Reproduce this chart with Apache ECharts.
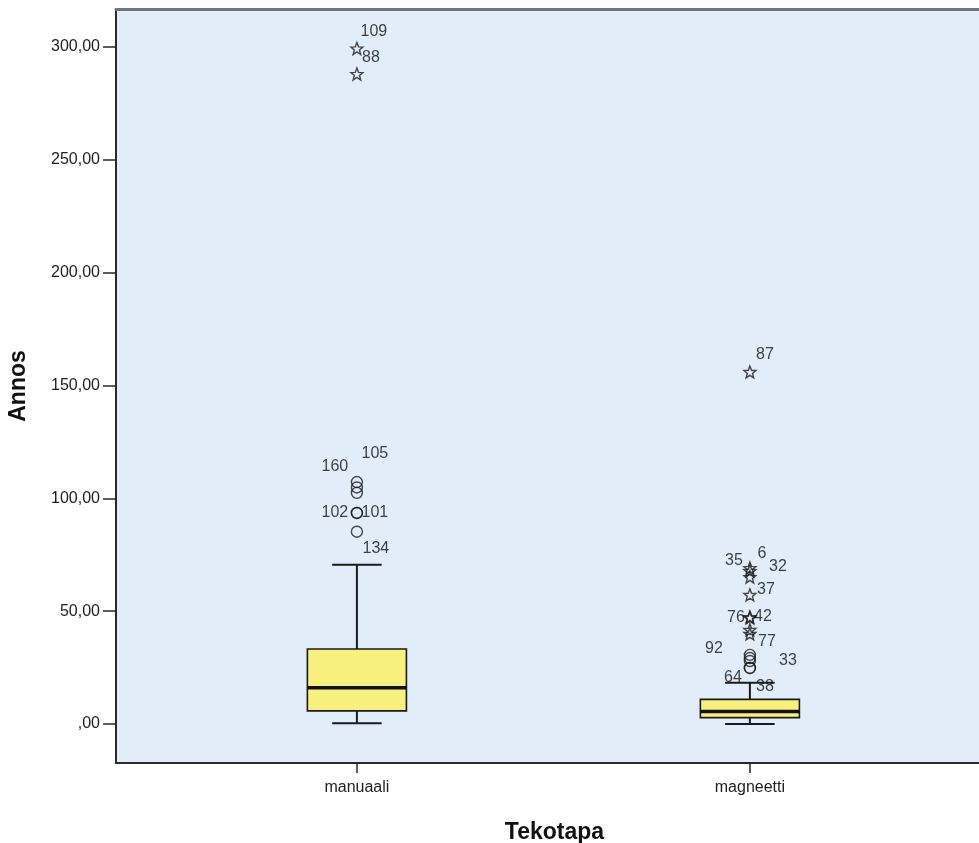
<!DOCTYPE html>
<html>
<head>
<meta charset="utf-8">
<script src="https://cdn.jsdelivr.net/npm/echarts@6/dist/echarts.min.js"></script>
<style>html,body{margin:0;padding:0;background:#fff;overflow:hidden}#c{width:979px;height:843px}</style>
</head>
<body>
<div id="c"></div>
<script>
// ---- data ----
const categories = ['manuaali', 'magneetti'];
// [min whisker, Q1, median, Q3, max whisker]
const boxManuaali = [0.3, 5.8, 16.0, 33.2, 70.5];
const boxMagneetti = [0.0, 2.8, 5.5, 10.9, 18.3];
const manuaaliOutliers = [107.2, 104.8, 102.4, 93.5, 93.5, 85.2];
const manuaaliOutlierIds = ['105', '160', '', '102', '101', '134'];
const manuaaliExtremes = [299.3, 288.0];
const manuaaliExtremeIds = ['109', '88'];
const magneettiOutliers = [30.6, 29.2, 27.9, 24.8, 24.8];
const magneettiOutlierIds = ['92', '', '33', '64', '38'];
const magneettiExtremes = [156.0, 69.1, 67.8, 65.1, 57.2, 47.4, 47.0, 41.7, 39.9];
const magneettiExtremeIds = ['87', '35', '6', '32', '37', '76', '42', '', '77'];
const yTicks = [0, 50, 100, 150, 200, 250, 300];
const xTitle = 'Tekotapa';
const yTitle = 'Annos';

// ---- style (label placement offsets, px) ----
const labelOffsets = {
  '109': [17, -17], '88': [14, -16], '105': [18, -28], '160': [-22, -21],
  '102': [-22, 0], '101': [18, 0], '134': [19, 17],
  '87': [15, -17], '35': [-16, -7], '6': [12, -17], '32': [28, -10],
  '37': [16, -5], '76': [-14, 1], '42': [13, -1], '77': [17, 8],
  '92': [-36, -6], '33': [38, 0], '64': [-17, 10], '38': [15, 19]
};
const FONT = "'Liberation Sans', Arial, sans-serif";
const INK = '#1a1a1a';
const BOX_FRAC = 0.252;
const STAR = 'path://M0,-10 L2.6,-3.4 L9.5,-3.1 L4.1,1.3 L6,8.1 L0,4.2 L-6,8.1 L-4.1,1.3 L-9.5,-3.1 L-2.6,-3.4 Z';

function pts(catIdx, vals, ids) {
  return vals.map((v, k) => {
    const id = ids[k];
    return {
      value: [catIdx, v],
      name: id,
      label: { show: id !== '', offset: labelOffsets[id] || [0, 0] }
    };
  });
}

const boxData = [[0].concat(boxManuaali), [1].concat(boxMagneetti)];

const el = document.getElementById('c');
const chart = echarts.init(el, null, { renderer: 'canvas', width: 979, height: 843 });
const markerLabel = {
  position: 'inside', formatter: p => p.name, color: '#111',
  fontFamily: FONT, fontSize: 16
};

chart.setOption({
  backgroundColor: '#ffffff',
  animation: false,
  grid: {
    left: 116, right: 0, top: 9, bottom: 80,
    outerBoundsMode: 'none', containLabel: false,
    show: true, backgroundColor: '#e2edfa', borderWidth: 0
  },
  xAxis: [{
    type: 'value', min: -0.613, max: 1.583,
    name: xTitle, nameLocation: 'middle', nameGap: 58,
    nameTextStyle: { fontFamily: FONT, fontSize: 23, fontWeight: 'bold', color: '#111', padding: [0, 0, 0, 14] },
    axisLine: { show: true, onZero: false, lineStyle: { color: '#2a2a2a', width: 2 } },
    axisTick: { show: true, customValues: [0, 1], length: 10, lineStyle: { color: '#2a2a2a', width: 1.5 } },
    axisLabel: {
      customValues: [0, 1], formatter: v => categories[Math.round(v)] || '',
      margin: 17, fontFamily: FONT, fontSize: 16, color: '#1e1e1e'
    },
    splitLine: { show: false }
  }, {
    type: 'value', position: 'top', min: -0.613, max: 1.583,
    axisLine: { show: true, onZero: false, lineStyle: { color: '#70777c', width: 3 } },
    axisTick: { show: false }, axisLabel: { show: false }, splitLine: { show: false }
  }],
  yAxis: {
    type: 'value', min: -17.3, max: 316.8,
    name: yTitle, nameLocation: 'middle', nameGap: 86, nameRotate: 90,
    nameTextStyle: { fontFamily: FONT, fontSize: 23, fontWeight: 'bold', color: '#111' },
    axisLine: { show: true, onZero: false, lineStyle: { color: '#2a2a2a', width: 2 } },
    axisTick: { show: true, customValues: yTicks, length: 13, lineStyle: { color: '#2a2a2a', width: 1.5 } },
    axisLabel: {
      customValues: yTicks,
      formatter: v => (v === 0 ? ',00' : v.toFixed(2).replace('.', ',')),
      margin: 16, fontFamily: FONT, fontSize: 16, color: '#1e1e1e'
    },
    splitLine: { show: false }
  },
  series: [{
    type: 'custom',
    data: boxData,
    encode: { x: 0, y: [1, 2, 3, 4, 5] },
    z: 2,
    renderItem: function (params, api) {
      const i = api.value(0);
      const mn = api.value(1), q1 = api.value(2), md = api.value(3), q3 = api.value(4), mx = api.value(5);
      const bw = api.size([1, 0])[0] * BOX_FRAC;
      const x = api.coord([i, md])[0];
      const y = v => api.coord([i, v])[1];
      const ls = { stroke: INK, lineWidth: 2 };
      return {
        type: 'group',
        children: [
          { type: 'line', shape: { x1: x, y1: y(q3), x2: x, y2: y(mx) }, style: ls },
          { type: 'line', shape: { x1: x, y1: y(q1), x2: x, y2: y(mn) }, style: ls },
          { type: 'line', shape: { x1: x - bw / 4, y1: y(mx), x2: x + bw / 4, y2: y(mx) }, style: ls },
          { type: 'line', shape: { x1: x - bw / 4, y1: y(mn), x2: x + bw / 4, y2: y(mn) }, style: ls },
          { type: 'rect', shape: { x: x - bw / 2, y: y(q3), width: bw, height: y(q1) - y(q3) },
            style: { fill: '#f8f07e', stroke: INK, lineWidth: 1.6 } },
          { type: 'line', shape: { x1: x - bw / 2, y1: y(md), x2: x + bw / 2, y2: y(md) },
            style: { stroke: '#111', lineWidth: 3.5 } }
        ]
      };
    }
  }, {
    type: 'scatter',
    z: 3,
    symbol: 'circle', symbolSize: 11,
    itemStyle: { color: 'rgba(0,0,0,0)', borderColor: INK, borderWidth: 1.4 },
    label: markerLabel,
    data: pts(0, manuaaliOutliers, manuaaliOutlierIds).concat(pts(1, magneettiOutliers, magneettiOutlierIds))
  }, {
    type: 'scatter',
    z: 4,
    symbol: STAR, symbolSize: 12,
    itemStyle: { color: 'rgba(0,0,0,0)', borderColor: INK, borderWidth: 1.4 },
    label: markerLabel,
    data: pts(0, manuaaliExtremes, manuaaliExtremeIds).concat(pts(1, magneettiExtremes, magneettiExtremeIds))
  }]
});
</script>
</body>
</html>
